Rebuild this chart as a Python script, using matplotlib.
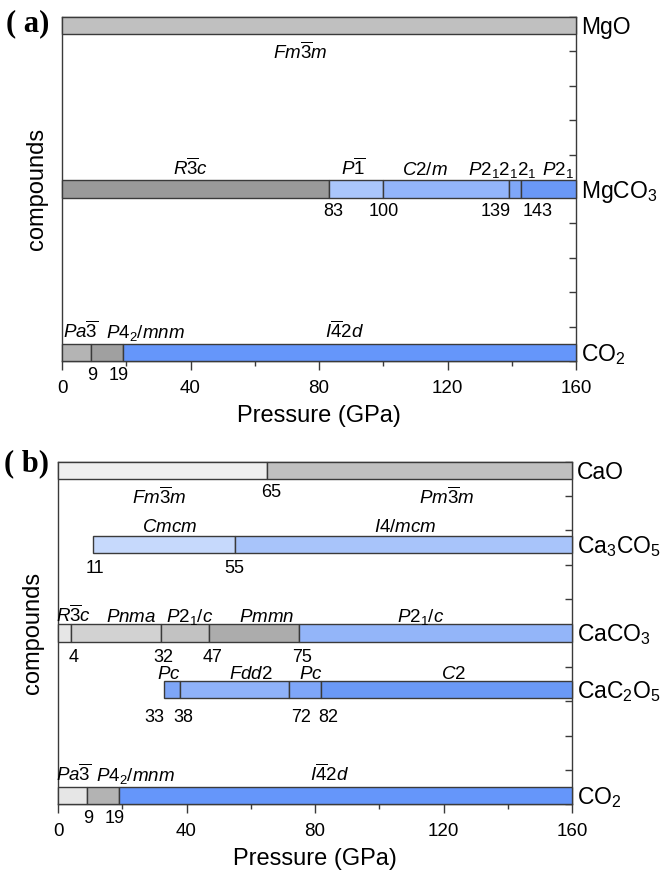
import numpy as np
import matplotlib
matplotlib.use('Agg')
import matplotlib.pyplot as plt
from matplotlib.ticker import MultipleLocator

plt.rcParams['font.family'] = ['Liberation Sans', 'DejaVu Sans']
plt.rcParams['mathtext.fontset'] = 'custom'
plt.rcParams['mathtext.rm'] = 'Liberation Sans'
plt.rcParams['mathtext.it'] = 'Liberation Sans:italic'
plt.rcParams['mathtext.bf'] = 'Liberation Sans:bold'
plt.rcParams['mathtext.default'] = 'it'

# ---- data: transition pressures (GPa) and phases ----
mgo_p = [0, 160]
mgo_ph = [r'$Fm\overline{3}m$']
mgo_col = ['#c0c0c0']

mgco3_p = [0, 83, 100, 139, 143, 160]
mgco3_ph = [r'$R\overline{3}c$', r'$P\overline{1}$', r'$C2/m$', r'$P2_12_12_1$', r'$P2_1$']
mgco3_col = ['#9a9a9a', '#aac6fb', '#93b5fa', '#7fa7f8', '#6a98f6']

co2_p = [0, 9, 19, 160]
co2_ph = [r'$Pa\overline{3}$', r'$P4_2/mnm$', r'$I\overline{4}2d$']
co2a_col = ['#b4b4b4', '#a0a0a0', '#6596fa']
co2b_col = ['#e6e6e6', '#b3b3b3', '#6596fa']

cao_p = [0, 65, 160]
cao_ph = [r'$Fm\overline{3}m$', r'$Pm\overline{3}m$']
cao_col = ['#efefef', '#c0c0c0']

ca3co5_p = [11, 55, 160]
ca3co5_ph = [r'$Cmcm$', r'$I4/mcm$']
ca3co5_col = ['#c6d9fc', '#a8c4fa']

caco3_p = [0, 4, 32, 47, 75, 160]
caco3_ph = [r'$R\overline{3}c$', r'$Pnma$', r'$P2_1/c$', r'$Pmmn$', r'$P2_1/c$']
caco3_col = ['#e6e6e6', '#d2d2d2', '#c2c2c2', '#acacac', '#93b5f9']

cac2o5_p = [33, 38, 72, 82, 160]
cac2o5_ph = [r'$Pc$', r'$Fdd2$', r'$Pc$', r'$C2$']
cac2o5_col = ['#7ea6f8', '#8fb2f9', '#7ea6f8', '#6a99f7']

EDGE = '#3a3a3a'
H = 0.5


def draw_row(ax, y, bounds, colors, names, name_x, num_x,
             below=False, name_dy=3, num_dy=-13.5):
    lefts = bounds[:-1]
    widths = np.diff(bounds)
    ax.barh([y] * len(widths), widths, left=lefts, height=H, color=colors,
            edgecolor=EDGE, linewidth=1, zorder=3, clip_on=False)
    top, bot = y - H / 2, y + H / 2
    for nm, x in zip(names, name_x):
        if below:
            ax.annotate(nm, (x, bot), xytext=(0, -18), textcoords='offset points',
                        ha='center', va='baseline', fontsize=13.5)
        else:
            ax.annotate(nm, (x, top), xytext=(0, name_dy), textcoords='offset points',
                        ha='center', va='baseline', fontsize=13.5)
    nums = [b for b in bounds if 0 < b < 160]
    for n, x in zip(nums, num_x):
        ax.annotate(str(n), (x, bot), xytext=(0, num_dy), textcoords='offset points',
                    ha='center', va='baseline', fontsize=13)


def style(ax):
    ax.set_xlim(0, 160)
    ax.set_ylim(10, 0)
    ax.set_xticks([0, 40, 80, 120, 160])
    ax.xaxis.set_minor_locator(MultipleLocator(20))
    ax.tick_params(axis='x', which='major', direction='out', length=6.5, width=1,
                   pad=7, labelsize=13.5, color=EDGE)
    ax.tick_params(axis='x', which='minor', direction='out', length=3.5, width=1,
                   color=EDGE)
    ax.yaxis.tick_right()
    ax.set_yticks(range(11))
    ax.tick_params(axis='y', direction='in', length=5, width=1, color=EDGE,
                   labelright=False, left=False)
    for s in ax.spines.values():
        s.set_color(EDGE)
        s.set_linewidth(1)
    ax.set_xlabel('Pressure (GPa)', fontsize=17, labelpad=6)
    ax.set_ylabel('compounds', fontsize=17, labelpad=10)


def right_label(ax, y, txt):
    ax.text(1.01, y + H / 2, txt, transform=ax.get_yaxis_transform(),
            ha='left', va='baseline', fontsize=16.5)


fig = plt.figure(figsize=(6.62, 8.75), dpi=100)
ax_a = fig.add_axes([62 / 662, 1 - 361 / 875, 514 / 662, 344 / 875])
ax_b = fig.add_axes([58 / 662, 1 - 804 / 875, 514 / 662, 342 / 875])

# panel (a)
draw_row(ax_a, 0.25, mgo_p, mgo_col, mgo_ph, [74], [], below=True)
draw_row(ax_a, 5.0, mgco3_p, mgco3_col, mgco3_ph,
         [40, 90.6, 113, 137, 154.5], [84.4, 100, 135, 148], name_dy=4)
draw_row(ax_a, 9.75, co2_p, co2a_col, co2_ph, [5.7, 26, 88], [9.3, 17.5], name_dy=4)
right_label(ax_a, 0.25, 'MgO')
right_label(ax_a, 5.0, r'MgCO$_\mathrm{3}$')
right_label(ax_a, 9.75, r'CO$_\mathrm{2}$')
style(ax_a)

# panel (b)
draw_row(ax_b, 0.25, cao_p, cao_col, cao_ph, [31.5, 121], [66.3], below=True, num_dy=-13)
draw_row(ax_b, 2.4, ca3co5_p, ca3co5_col, ca3co5_ph, [34.6, 108], [11.6, 55],
         name_dy=2.5, num_dy=-15)
draw_row(ax_b, 5.0, caco3_p, caco3_col, caco3_ph,
         [5, 22.8, 41, 65, 113], [5, 32.7, 48, 76], name_dy=2, num_dy=-15)
draw_row(ax_b, 6.65, cac2o5_p, cac2o5_col, cac2o5_ph,
         [34.6, 60, 78.8, 123], [30, 39, 75.8, 84], name_dy=1.5, num_dy=-17)
draw_row(ax_b, 9.75, co2_p, co2b_col, co2_ph, [5, 24, 84.4], [9.3, 17.7], name_dy=4)
right_label(ax_b, 0.25, 'CaO')
right_label(ax_b, 2.4, r'Ca$_\mathrm{3}$CO$_\mathrm{5}$')
right_label(ax_b, 5.0, r'CaCO$_\mathrm{3}$')
right_label(ax_b, 6.65, r'CaC$_\mathrm{2}$O$_\mathrm{5}$')
right_label(ax_b, 9.75, r'CO$_\mathrm{2}$')
style(ax_b)

fig.text(6 / 662, 1 - 24 / 875, '( a)', family='Liberation Serif', weight='bold',
         fontsize=22, ha='left', va='center')
fig.text(4 / 662, 1 - 464 / 875, '( b)', family='Liberation Serif', weight='bold',
         fontsize=22, ha='left', va='center')

fig.savefig('out.png', dpi=100)
